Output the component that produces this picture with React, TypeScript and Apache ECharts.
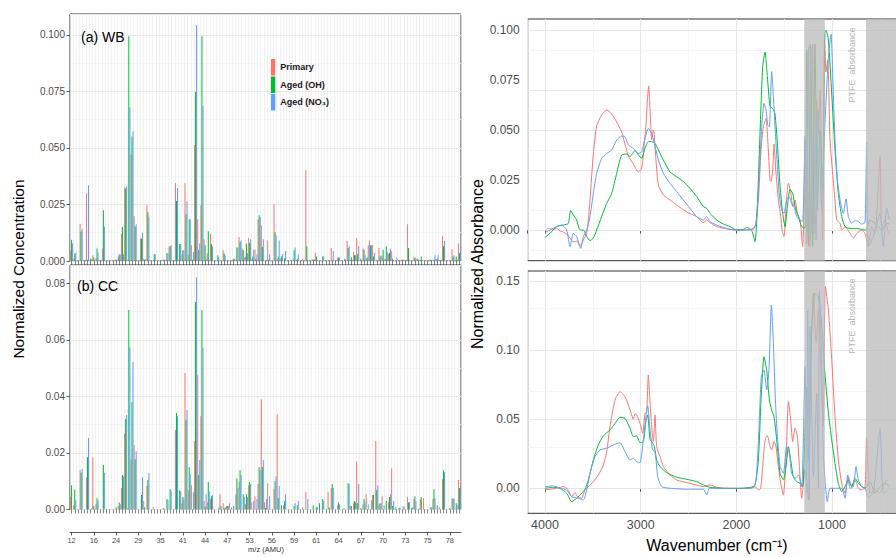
import React, { useEffect, useRef } from 'react';
import * as echarts from 'echarts';

const FONT = '"Liberation Sans", Arial, Helvetica, sans-serif';
const RED = '#F8766D';
const GREEN = '#00BA38';
const BLUE = '#619CFF';
const seriesNames = ['Primary', 'Aged (OH)', 'Aged (NO₃)'];
const colors = [RED, GREEN, BLUE];

// m/z tick labels shown at every 7th ion category
const mzTicks = ['12', '16', '24', '29', '35', '41', '44', '47', '53', '56', '59', '61', '64', '67', '70', '73', '75', '78'];
const ionCount = 123;
const ionIndex = Array.from({ length: ionCount }, (_, i) => String(i));

// (a) WB normalized ion concentrations
const wbPrimary = [
  .0047, .001, 0, .0165, 0, .030, 0, .0025, .0012, 0,
  .0055, 0, 0, 0, .0005, .002, .012, .0325, .0005, .047,
  .0198, 0, .010, .001, .0246, 0, 0, 0, 0, .0005,
  .0005, .0065, 0, .0345, .0005, .0028, .0345, .0028, .007, .0513,
  .0185, .0246, .0096, .0033, .012, 0, 0, 0, .0047, 0,
  0, .0005, .0005, .0106, .0055, .002, .0102, .001, .005, .0185,
  .0158, 0, .0091, 0, .0251, .001, .001, 0, 0, 0,
  .0005, 0, 0, .001, .0401, 0, .0007, .0035, 0, 0,
  0, 0, .0058, 0, .0015, 0, 0, .0088, .0005, .004,
  .0102, 0, .0055, .001, .0091, .007, 0, .0058, .002, .001,
  .003, .0044, 0, 0, .0005, .0005, .0162, 0, .0015, .001,
  0, 0, 0, .0005, 0, .001, 0, .011, 0, 0,
  .0052, 0, .0077,
];
const wbAgedOH = [
  .0094, .0033, 0, .013, 0, .0005, .001, .0015, .0055, 0,
  .0224, 0, 0, 0, .0006, .003, .015, .032, .0994, .055,
  .0153, 0, .010, .0005, .0215, 0, .003, 0, 0, .0005,
  .0035, .0065, 0, .0265, .0075, .0047, .0207, .0185, .0005, .0748,
  .005, .0994, .007, .0131, .0074, 0, .0025, 0, .0033, 0,
  0, .001, .006, .0084, .0047, .0077, .008, .002, .001, .0202,
  .0062, 0, .0005, 0, .0127, .002, .002, .0012, 0, 0,
  .0047, .001, 0, 0, .0065, 0, .0007, .002, 0, .002,
  0, 0, 0, 0, .0015, 0, .001, .0058, .0017, .0025,
  .003, .001, .005, .0015, .007, .002, 0, .002, .005, .0065,
  .0035, .001, 0, 0, .0005, 0, .0058, 0, .0015, .0008,
  .002, 0, 0, .0005, .0005, .001, 0, .0065, 0, 0,
  .002, .002, .0035,
];
const wbAgedNO3 = [
  .0077, .0037, 0, .0143, 0, .0335, .0008, 0, .0037, 0,
  .0153, 0, 0, 0, .0006, .003, .003, .033, .068, .0574,
  .0162, 0, .0125, .0008, .0193, 0, .003, 0, 0, .0007,
  .0035, .007, 0, .0323, .0075, .0047, .0264, .0185, .004, .1043,
  .0077, .0685, .001, .0005, .0065, 0, .0015, 0, .0025, 0,
  0, .001, .006, .0091, .0015, .0035, .0096, .005, .003, .0195,
  .0096, 0, .003, 0, .0114, .0091, .003, .0044, 0, 0,
  .006, .003, 0, 0, .0005, 0, .0007, .0005, 0, .002,
  0, 0, .0044, 0, .0015, 0, 0, .0065, .0005, .0025,
  .0065, 0, .0025, .007, .007, .0035, 0, .0025, .001, .004,
  .0055, 0, .0015, 0, .0005, .0005, .0005, 0, .0012, .0005,
  0, 0, 0, .0005, .0025, .0025, 0, .0088, 0, 0,
  .0025, 0, .006,
];

// (b) CC normalized ion concentrations
const ccPrimary = [
  .0045, .0015, 0, .0139, 0, .0114, 0, .0185, .0019, 0,
  0, 0, 0, 0, 0, .0012, .0076, .027, .0005, .0178,
  .0228, 0, 0, .003, .0083, 0, .0008, 0, 0, 0,
  0, 0, 0, .0281, 0, .0022, .0483, .0068, .0086, .0242,
  .0475, .033, .003, .0026, .0037, 0, 0, .0054, .0022, .0012,
  .0022, 0, .0054, .0097, 0, .0019, .0086, .0026, .0047, .009,
  .039, .0026, .0093, 0, .0072, .0337, 0, .0015, 0, 0,
  0, 0, 0, .0008, .0061, 0, 0, 0, 0, 0,
  0, .0061, .0076, 0, .0015, 0, .0005, 0, .0012, .0022,
  .017, 0, .0019, .0054, 0, .0051, .0242, .0019, .0047, 0,
  .0026, .0146, 0, 0, 0, .0008, .0044, 0, .0037, 0,
  .0037, .004, 0, 0, .0037, 0, .0008, .0107, 0, 0,
  .0037, 0, .0104,
];
const ccAgedOH = [
  .0086, .0071, 0, .013, 0, .0185, 0, .0012, .004, 0,
  .0157, 0, 0, 0, .0008, .0025, .0122, .032, .0706, .038,
  .0178, 0, .0051, .0008, .0104, 0, 0, 0, 0, .0005,
  .0037, .0072, 0, .0341, .0068, .0044, .0316, .015, 0, .0734,
  .0122, .0706, .001, .0097, .0047, 0, 0, .0012, .0005, .0012,
  0, .0012, .011, .0139, .0054, .0054, .0097, 0, 0, .015,
  .015, .0005, 0, 0, .01, .004, .0015, .003, 0, 0,
  .0012, .0015, 0, 0, 0, 0, .0015, .0008, .0022, .0037,
  0, .0008, .009, 0, .0026, 0, 0, .0093, .0012, .003,
  .0022, .0005, .0037, 0, 0, .0051, .0068, .0022, 0, .003,
  .0044, .0012, .0008, .0005, 0, 0, .0026, .0005, .0047, 0,
  .0044, 0, 0, .0008, .0072, .0015, 0, .0139, 0, .0005,
  .004, .0022, .0076,
];
const ccAgedNO3 = [
  0, .0033, 0, .0143, 0, .0253, .0004, 0, .0033, 0,
  .013, 0, 0, 0, 0, .0019, .0118, .0334, .0573, .0522,
  .0206, 0, .0114, 0, .0129, 0, 0, 0, 0, 0,
  .0033, .0065, 0, .033, .0065, .0037, .0352, .0125, .0061, .0822,
  .0175, .0573, .0054, .0065, .0051, 0, .0008, 0, .0008, .0012,
  .0008, 0, .0076, .0122, .0044, .0044, .009, .003, .0037, .014,
  .0175, .0037, .0047, 0, .0118, .0083, 0, .0054, 0, 0,
  .0022, .003, 0, 0, .0037, 0, 0, .0008, 0, .003,
  0, 0, .0076, 0, .0019, 0, 0, .009, 0, .0026,
  .009, 0, .0026, .0019, .0033, 0, .0086, .0022, .0015, 0,
  .0054, .003, 0, .0008, .0012, 0, .0026, .0008, .003, .0005,
  0, 0, 0, .0008, .004, 0, 0, .0132, 0, 0,
  .0037, .0015, .0072,
];

// FTIR spectra: [wavenumber (cm-1), normalized absorbance]
const wbPrimaryIR = [[4000,-0.0005],[3965,0.0008],[3913,0.0003],[3878,0.0008],[3843,-0.0005],[3808,-0.001],[3774,-0.002],[3739,-0.004],[3704,-0.006],[3669,-0.0055],[3634,-0.008],[3599,-0.005],[3564,-0.0017],[3547,0.005],[3530,0.015],[3495,0.038],[3460,0.052],[3408,0.0575],[3355,0.06],[3303,0.058],[3251,0.054],[3199,0.049],[3164,0.043],[3129,0.037],[3077,0.033],[3024,0.029],[2990,0.031],[2965,0.042],[2948,0.05],[2930,0.065],[2916,0.072],[2902,0.06],[2885,0.045],[2868,0.05],[2861,0.049],[2840,0.035],[2815,0.0225],[2763,0.0175],[2693,0.015],[2624,0.0125],[2519,0.009],[2415,0.0067],[2345,0.0037],[2310,0.005],[2275,0.0037],[2206,0.0017],[2066,0.0003],[1997,0],[1927,0],[1857,0.0003],[1805,0.0017],[1770,0.015],[1742,0.04],[1718,0.0517],[1690,0.0558],[1666,0.04],[1648,0.025],[1638,0.0242],[1620,0.03],[1606,0.043],[1585,0.028],[1561,0.015],[1536,0.0067],[1523,0],[1502,-0.0033],[1481,0.0117],[1456,0.0233],[1432,0.019],[1411,0.0117],[1387,0.015],[1362,0.0083],[1334,0.005],[1307,-0.0083],[1293,0.01],[1282,0.045],[1265,-0.0067],[1247,0.09],[1230,-0.0083],[1202,0.093],[1185,-0.0017],[1160,0.065],[1143,0.048],[1125,0.07],[1098,-0.005],[1077,0.098],[1063,0.079],[1045,0.085],[1021,0.045],[993,0.028],[969,0.015],[951,0.005],[916,0.0033],[899,0],[864,0.0017],[812,-0.0017],[777,-0.004],[742,-0.0017],[690,0],[655,-0.0017],[620,-0.0083],[585,0.0017],[551,-0.0017],[498,0.037],[481,0.0017],[446,0.005],[411,-0.0017]];
const wbAgedOHIR = [[4000,-0.0037],[3948,-0.0017],[3878,0.0017],[3808,0.0025],[3756,0.0033],[3732,0.0097],[3704,0.0075],[3669,0.005],[3634,0],[3599,0],[3564,-0.0033],[3530,-0.0053],[3495,-0.004],[3460,0],[3408,0.0067],[3355,0.0133],[3303,0.0183],[3251,0.0283],[3199,0.0375],[3146,0.038],[3111,0.0367],[3059,0.0397],[3024,0.0375],[2990,0.0358],[2955,0.0408],[2920,0.0442],[2885,0.0442],[2850,0.0433],[2815,0.04],[2763,0.035],[2693,0.029],[2624,0.0267],[2554,0.0242],[2484,0.0208],[2415,0.0167],[2345,0.0117],[2310,0.0108],[2275,0.0083],[2206,0.005],[2136,0.003],[2066,0.0017],[1997,0],[1927,0.0003],[1892,0.0013],[1840,-0.0003],[1805,-0.0058],[1780,0.0117],[1753,0.048],[1725,0.0817],[1700,0.089],[1676,0.0767],[1648,0.0617],[1620,0.0608],[1596,0.058],[1571,0.043],[1543,0.0217],[1516,0.0083],[1491,0.0017],[1467,0.0117],[1439,0.0203],[1411,0.0183],[1387,0.0117],[1352,0.0067],[1317,0.0017],[1282,0.001],[1265,0.09],[1247,-0.008],[1223,0.092],[1202,-0.008],[1178,0.093],[1153,0.01],[1125,0.05],[1098,0.02],[1077,0.098],[1063,0.1],[1038,0.095],[1003,0.068],[969,0.04],[934,0.0183],[899,0.0067],[864,0.0017],[812,0.0008],[742,0.0008],[690,0.0003],[645,0],[603,0.005],[551,0.0033],[481,0],[429,0.0033],[401,0.003]];
const wbAgedNO3IR = [[4000,-0.0013],[3948,0],[3878,0.0017],[3826,0.0025],[3774,0],[3739,-0.0083],[3704,-0.0017],[3669,-0.0033],[3627,-0.0092],[3599,-0.0033],[3564,0],[3530,0.0067],[3495,0.0183],[3460,0.0283],[3408,0.0358],[3355,0.0383],[3303,0.04],[3251,0.045],[3199,0.047],[3164,0.0467],[3129,0.0425],[3077,0.0408],[3024,0.0383],[2990,0.0392],[2955,0.0458],[2920,0.0508],[2885,0.0483],[2850,0.0417],[2815,0.035],[2763,0.0283],[2693,0.0233],[2624,0.0192],[2554,0.015],[2484,0.0108],[2415,0.0067],[2345,0.005],[2310,0.0067],[2275,0.0042],[2206,0.0025],[2136,0.0013],[2066,0.0003],[1997,0],[1892,0],[1822,0.0003],[1794,0.0033],[1767,0.0233],[1735,0.0517],[1711,0.0633],[1690,0.06],[1672,0.0525],[1655,0.0517],[1631,0.0792],[1613,0.0667],[1592,0.0483],[1571,0.0317],[1550,0.0167],[1526,0.01],[1502,0.0083],[1474,0.015],[1446,0.0167],[1422,0.0133],[1397,0.0117],[1369,0.0067],[1334,0.005],[1307,0.0042],[1282,0.0467],[1265,-0.0017],[1247,0.09],[1230,0.093],[1213,-0.0017],[1195,0.05],[1167,-0.005],[1143,0.06],[1108,0.01],[1077,0.05],[1040,0.085],[1010,0.098],[993,0.0767],[969,0.045],[944,0.025],[916,0.015],[882,0.0083],[854,0.0155],[829,0.0067],[794,0.0033],[760,0.0047],[725,0.0042],[690,0.003],[655,0.0037],[638,0.044],[620,-0.0083],[568,-0.0033],[498,0.0083],[464,-0.0083],[429,0.011],[401,0.005]];
const ccPrimaryIR = [[4000,-0.0012],[3878,0],[3808,0.0012],[3756,-0.0012],[3721,-0.006],[3686,-0.003],[3662,-0.006],[3617,-0.0072],[3582,-0.0012],[3547,0.0012],[3495,0.0048],[3443,0.0096],[3390,0.0169],[3355,0.0265],[3321,0.0446],[3268,0.0639],[3216,0.0699],[3164,0.0663],[3111,0.0567],[3077,0.05],[3059,0.0538],[3042,0.0531],[3007,0.047],[2979,0.0398],[2955,0.0543],[2937,0.0555],[2920,0.082],[2902,0.0615],[2885,0.0446],[2868,0.0338],[2850,0.053],[2833,0.0301],[2798,0.0229],[2763,0.0157],[2693,0.0096],[2624,0.006],[2484,0.0036],[2345,0.0012],[2275,0.0024],[2206,0.0007],[2136,0],[1997,0],[1857,0],[1805,0.0012],[1770,-0.0012],[1746,0],[1725,0.0157],[1700,0.035],[1676,0.0381],[1648,0.0301],[1631,0.0277],[1606,0.0338],[1585,0.0301],[1561,0.0157],[1536,0.0036],[1509,-0.0048],[1481,0.0205],[1456,0.0627],[1432,0.0494],[1411,0.0338],[1387,0.0434],[1362,0.0374],[1341,0.0157],[1317,-0.0072],[1282,0.0133],[1247,-0.0084],[1223,0.093],[1195,0.141],[1167,0.105],[1143,0.129],[1108,0.069],[1091,0.045],[1070,0.146],[1038,0.129],[1003,0.093],[969,0.0518],[934,0.0205],[899,0.0036],[864,-0.0036],[829,0.0084],[794,0.0012],[760,0.006],[725,0],[690,-0.0012],[655,0.0005],[638,0.037],[603,-0.0036],[551,-0.0012],[498,-0.0036],[446,0.0048],[411,0.006]];
const ccAgedOHIR = [[4000,0],[3913,0.0007],[3843,0],[3774,-0.0036],[3721,-0.0096],[3669,-0.0072],[3617,-0.0036],[3582,-0.0007],[3547,0.006],[3495,0.0205],[3443,0.0313],[3390,0.0379],[3321,0.0422],[3268,0.047],[3216,0.0514],[3164,0.0506],[3111,0.0434],[3077,0.0374],[3042,0.0379],[3007,0.033],[2972,0.0338],[2944,0.0494],[2927,0.053],[2902,0.035],[2875,0.033],[2857,0.0301],[2833,0.0205],[2798,0.0157],[2728,0.0113],[2624,0.008],[2519,0.0065],[2415,0.0048],[2345,0.0024],[2275,0.0007],[2136,0],[1997,-0.0002],[1857,0.0005],[1805,0.0024],[1770,0.0205],[1742,0.0639],[1711,0.0952],[1683,0.0856],[1655,0.0639],[1631,0.0567],[1606,0.0518],[1578,0.035],[1543,0.0109],[1509,0.006],[1481,0.0157],[1456,0.0301],[1432,0.0205],[1404,0.0084],[1369,0.0048],[1334,0.0036],[1307,0.0012],[1265,0.0735],[1247,0.02],[1213,0.112],[1178,0.141],[1143,0.139],[1108,0.118],[1077,0.0856],[1038,0.0543],[1003,0.035],[969,0.018],[934,0.0036],[899,-0.0024],[864,0.0012],[829,0.006],[794,0.0012],[760,0.0072],[725,0.0036],[690,0.0012],[655,0],[603,0.0048],[551,-0.0036],[498,0.0012],[446,0.0036],[401,0.0012]];
const ccAgedNO3IR = [[4000,0.0012],[3913,0.0017],[3843,0],[3774,-0.0012],[3721,-0.006],[3652,-0.0072],[3599,-0.0084],[3564,-0.0012],[3530,0.0109],[3477,0.0229],[3425,0.0277],[3355,0.029],[3286,0.0313],[3216,0.033],[3164,0.0265],[3111,0.0205],[3077,0.0217],[3042,0.0193],[3007,0.0186],[2972,0.035],[2927,0.0596],[2902,0.0422],[2875,0.0277],[2850,0.0265],[2822,0.0084],[2780,0.0012],[2693,0],[2519,-0.0007],[2345,-0.0007],[2310,-0.0048],[2282,0],[2136,0],[1997,0],[1822,0.0005],[1794,0.006],[1767,0.0374],[1739,0.0808],[1711,0.0856],[1683,0.0711],[1659,0.0856],[1634,0.1326],[1613,0.1049],[1592,0.0639],[1571,0.0374],[1543,0.0157],[1509,0.0109],[1474,0.0301],[1446,0.0253],[1422,0.0109],[1387,0.0072],[1352,0.0096],[1317,0.0012],[1282,0.088],[1265,-0.0036],[1254,0.129],[1237,-0.0084],[1230,0.117],[1195,0.0084],[1160,0.069],[1143,0],[1132,0.143],[1108,0.093],[1091,0.025],[1049,-0.0096],[1021,0],[951,0],[899,0],[864,-0.0072],[836,0.0096],[812,0],[777,0.0012],[749,0.0157],[725,0.006],[690,0.0012],[655,0],[620,-0.006],[568,-0.0036],[498,0.0434],[464,-0.0036],[411,-0.0012]];

// PTFE bands (cm-1)
const ptfeBands = [[1290, 1075], [645, 0]];
// right panel y ticks
const irTopTicks = [0, 0.025, 0.05, 0.075, 0.1];
const irTopMinor = [-0.0125, 0.0125, 0.0375, 0.0625, 0.0875];
const irBotTicks = [0, 0.05, 0.1, 0.15];
const irBotMinor = [0.025, 0.075, 0.125];

const LABEL = '#4d4d4d';
const DARK = '#333333';

function barXAxis(gridIndex: number) {
  return {
    type: 'category', gridIndex, data: ionIndex, boundaryGap: true,
    axisLine: { show: false },
    axisTick: { show: true, interval: 0, alignWithLabel: true, length: 4, lineStyle: { color: DARK, width: 0.6 } },
    axisLabel: { show: false },
    splitLine: { show: true, interval: 0, lineStyle: { color: '#ebebeb', width: 0.7 } },
  };
}

function barYAxis(gridIndex: number, max: number, interval: number, digits: number) {
  return {
    type: 'value', gridIndex, min: 0, max, interval,
    axisLine: { show: false },
    axisTick: { show: true, length: 3.5, lineStyle: { color: DARK, width: 0.8 } },
    axisLabel: {
      color: LABEL, fontSize: 10, margin: 5, fontFamily: FONT, showMaxLabel: false,
      formatter: (v: number) => (Math.abs(v / interval - Math.round(v / interval)) < 1e-6 ? v.toFixed(digits) : ''),
    },
    splitLine: { show: true, lineStyle: { color: '#e6e6e6', width: 1 } },
    minorTick: { show: false, splitNumber: 2 },
    minorSplitLine: { show: true, lineStyle: { color: '#f3f3f3', width: 0.7 } },
  };
}

function irXAxis(gridIndex: number, showLabels: boolean) {
  return {
    type: 'value', gridIndex, min: 0, max: 4181, inverse: true, interval: 1000,
    axisLine: { show: false },
    axisTick: { show: true, length: 3.5, lineStyle: { color: DARK, width: 0.8 } },
    axisLabel: {
      show: showLabels, color: LABEL, fontSize: 12.5, margin: 5, fontFamily: FONT, showMaxLabel: false,
      formatter: (v: number) => (v > 0 && v % 1000 === 0 ? String(v) : ''),
    },
    splitLine: { show: true, lineStyle: { color: '#e6e6e6', width: 1 } },
    minorTick: { show: false, splitNumber: 2 },
    minorSplitLine: { show: true, lineStyle: { color: '#f3f3f3', width: 0.8 } },
  };
}

function irYAxis(gridIndex: number, min: number, max: number, ticks: number[], digits: number) {
  return {
    type: 'value', gridIndex, min, max,
    axisLine: { show: false },
    axisTick: { show: true, length: 3.5, customValues: ticks, lineStyle: { color: DARK, width: 0.8 } },
    axisLabel: {
      customValues: ticks, color: LABEL, fontSize: 12, margin: 8, fontFamily: FONT,
      formatter: (v: number) => v.toFixed(digits),
    },
    splitLine: { show: false },
  };
}

function gridLineSeries(xAxisIndex: number, yAxisIndex: number, major: number[], minor: number[]) {
  return {
    type: 'line', name: 'grid' + yAxisIndex, xAxisIndex, yAxisIndex, data: [], z: 1, silent: true,
    markLine: {
      z: 1, silent: true, symbol: ['none', 'none'], label: { show: false }, animation: false,
      emphasis: { disabled: true },
      data: [
        ...minor.map((v) => ({ yAxis: v, lineStyle: { color: '#f3f3f3', width: 0.8, type: 'solid' } })),
        ...major.map((v) => ({ yAxis: v, lineStyle: { color: '#e6e6e6', width: 1, type: 'solid' } })),
      ],
    },
  };
}

function bandSeries(xAxisIndex: number, yAxisIndex: number) {
  return {
    type: 'line', name: 'band' + yAxisIndex, xAxisIndex, yAxisIndex, data: [], z: 10, silent: true,
    markArea: {
      z: 10, silent: true, animation: false,
      itemStyle: { color: 'rgba(188,188,188,0.78)' },
      emphasis: { disabled: true },
      data: ptfeBands.map(([a, b]) => [{ xAxis: a }, { xAxis: b }]),
    },
  };
}

function barSeries(xAxisIndex: number, yAxisIndex: number, values: number[][]) {
  return values.map((data, i) => ({
    type: 'bar', name: seriesNames[i], xAxisIndex, yAxisIndex, data,
    itemStyle: { color: colors[i] }, barGap: '0%', barCategoryGap: '10%', silent: true,
  }));
}

function irSeries(xAxisIndex: number, yAxisIndex: number, values: number[][][]) {
  return values.map((data, i) => ({
    type: 'line', name: seriesNames[i], xAxisIndex, yAxisIndex, data, z: 3,
    showSymbol: false, symbol: 'none', smooth: 0.2, silent: true,
    lineStyle: { color: colors[i], width: 1 }, itemStyle: { color: colors[i] },
  }));
}

const textEl = (text: string, x: number, y: number, opts: any = {}) => ({
  type: 'text', x, y, rotation: opts.rotation || 0, silent: true, z: 20,
  style: {
    text, fontSize: opts.fontSize || 12, fill: opts.fill || '#000', fontFamily: FONT,
    fontWeight: opts.fontWeight || 'normal',
    align: opts.align || 'center', verticalAlign: 'middle',
  },
});

const gridBase = { show: true, borderColor: DARK, borderWidth: 1, backgroundColor: '#fff', containLabel: false, outerBoundsMode: 'none' };

const option: any = {
  animation: false,
  backgroundColor: '#ffffff',
  textStyle: { fontFamily: FONT },
  legend: {
    data: seriesNames, orient: 'vertical', left: 271, top: 59, itemWidth: 4.3, itemHeight: 16.5, itemGap: 1,
    icon: 'rect', padding: 0, selectedMode: false,
    textStyle: { fontSize: 9, fontWeight: 'bold', color: '#1a1a1a', fontFamily: FONT },
  },
  grid: [
    { ...gridBase, left: 70, top: 14, width: 391, height: 247 },
    { ...gridBase, left: 70, top: 265, width: 391, height: 244.5 },
    { ...gridBase, left: 527.7, top: 19, width: 400, height: 241.7 },
    { ...gridBase, left: 527.7, top: 271, width: 400, height: 242.3 },
  ],
  xAxis: [
    barXAxis(0),
    barXAxis(1),
    {
      type: 'category', gridIndex: 1, data: ionIndex, boundaryGap: true, position: 'bottom', offset: 23,
      axisLine: { show: true, lineStyle: { color: DARK, width: 0.8 } },
      axisTick: { show: true, interval: 6, alignWithLabel: true, length: 3, lineStyle: { color: DARK, width: 0.8 } },
      axisLabel: {
        interval: 6, color: LABEL, fontSize: 7.5, margin: 4, fontFamily: FONT,
        formatter: (_v: string, index: number) => (index % 7 === 0 ? mzTicks[index / 7] || '' : ''),
      },
      splitLine: { show: false },
    },
    irXAxis(2, false),
    irXAxis(3, true),
  ],
  yAxis: [
    barYAxis(0, 0.1092, 0.025, 3),
    barYAxis(1, 0.0865, 0.02, 2),
    irYAxis(2, -0.01535, 0.1055, irTopTicks, 3),
    irYAxis(3, -0.0181, 0.1572, irBotTicks, 2),
  ],
  series: [
    ...barSeries(0, 0, [wbPrimary, wbAgedOH, wbAgedNO3]),
    ...barSeries(1, 1, [ccPrimary, ccAgedOH, ccAgedNO3]),
    gridLineSeries(3, 2, irTopTicks, irTopMinor),
    gridLineSeries(4, 3, irBotTicks, irBotMinor),
    ...irSeries(3, 2, [wbPrimaryIR, wbAgedOHIR, wbAgedNO3IR]),
    ...irSeries(4, 3, [ccPrimaryIR, ccAgedOHIR, ccAgedNO3IR]),
    bandSeries(3, 2),
    bandSeries(4, 3),
  ],
  graphic: [
    textEl('(a) WB', 81, 37, { fontSize: 14, align: 'left' }),
    textEl('(b) CC', 77, 286, { fontSize: 14, align: 'left' }),
    textEl('Normalized Concentration', 18, 269, { fontSize: 15.5, rotation: Math.PI / 2 }),
    textEl('Normalized Absorbance', 477, 264, { fontSize: 16, rotation: Math.PI / 2 }),
    textEl('m/z (AMU)', 266, 549, { fontSize: 7.5, fill: '#333' }),
    textEl('Wavenumber (cm⁻¹)', 717, 545, { fontSize: 16 }),
    textEl('PTFE  absorbance', 851.7, 65, { fontSize: 9, fill: '#b3b3b3', rotation: Math.PI / 2 }),
    textEl('PTFE  absorbance', 851.7, 316, { fontSize: 9, fill: '#b3b3b3', rotation: Math.PI / 2 }),
  ],
};

export default function App() {
  const ref = useRef<HTMLDivElement>(null);
  useEffect(() => {
    document.body.style.margin = '0';
    const chart = echarts.init(ref.current as HTMLDivElement, null, { renderer: 'svg' });
    chart.setOption(option);
    return () => chart.dispose();
  }, []);
  return <div ref={ref} style={{ width: 896, height: 557, background: '#fff' }} />;
}
